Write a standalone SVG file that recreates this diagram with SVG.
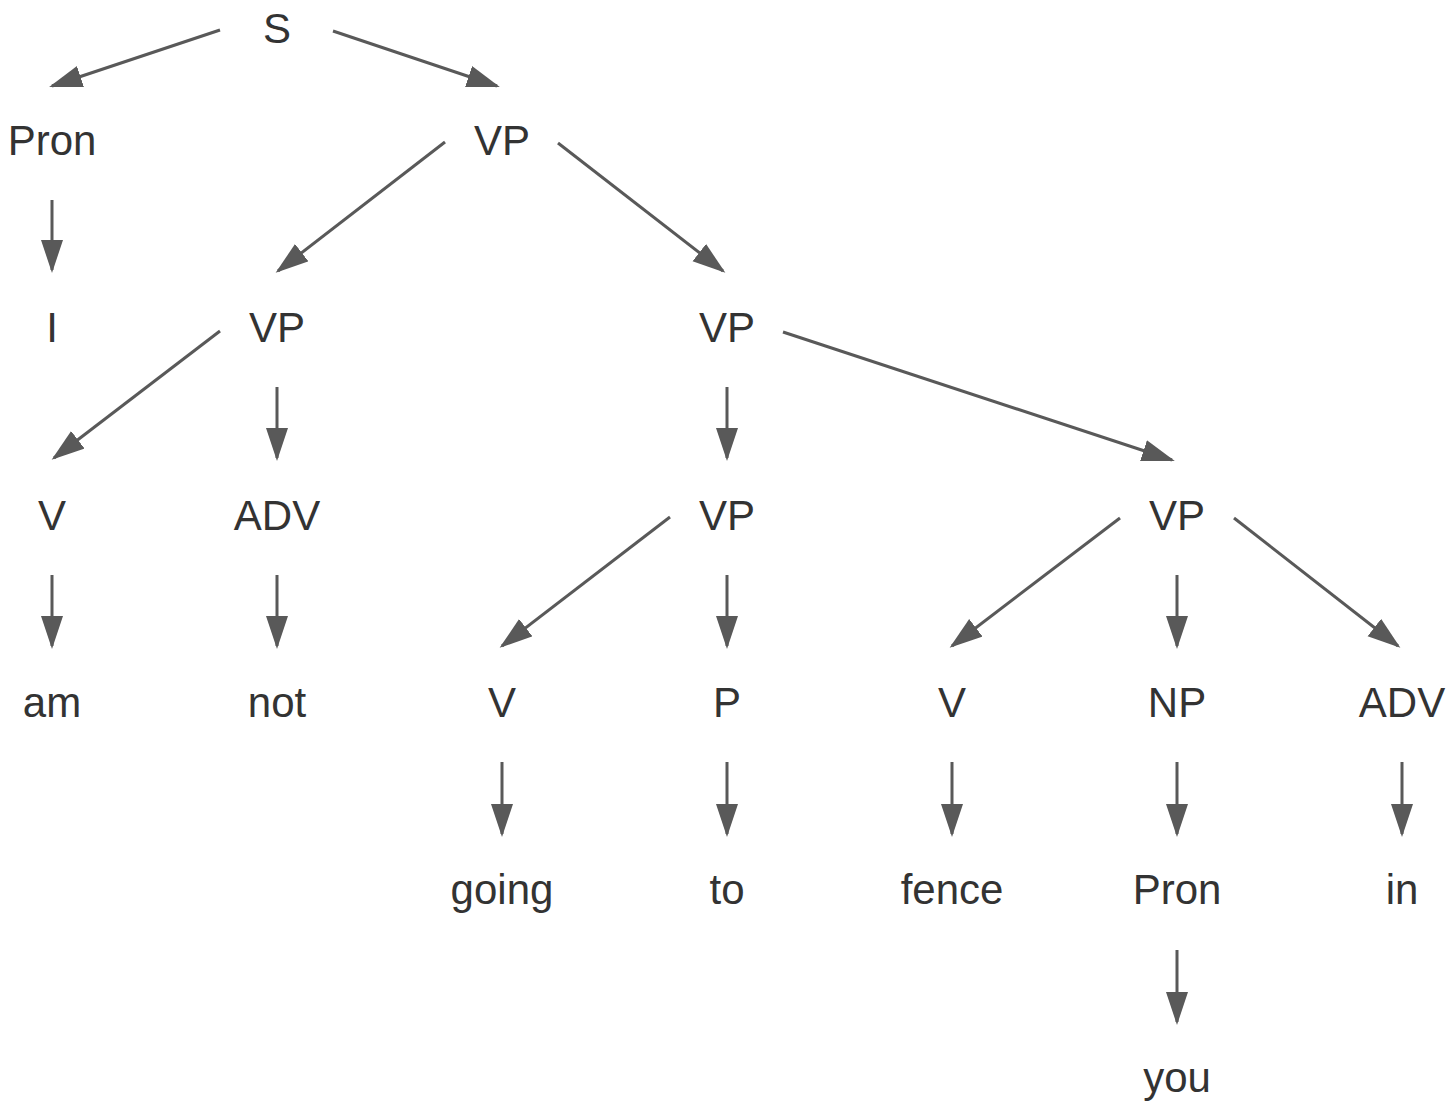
<svg xmlns="http://www.w3.org/2000/svg" width="1456" height="1108" viewBox="0 0 1456 1108">
<style>
text{font-family:"Liberation Sans",Arial,sans-serif;font-size:42px;fill:#333333;text-anchor:middle}
.e{stroke:#595959;stroke-width:3;fill:none;marker-end:url(#ah)}
</style>
<defs>
<marker id="ah" markerUnits="userSpaceOnUse" markerWidth="36" markerHeight="24" refX="30" refY="11" orient="auto">
<path d="M0,0 L33,11 L0,22 z" fill="#595959"/>
</marker>
</defs>
<rect width="1456" height="1108" fill="#ffffff"/>
<g id="connectors">
<line class="e" x1="220" y1="30" x2="52" y2="86"/>
<line class="e" x1="333" y1="31" x2="497" y2="86"/>
<line class="e" x1="52" y1="200" x2="52" y2="270"/>
<line class="e" x1="445" y1="142" x2="278" y2="271"/>
<line class="e" x1="558" y1="143" x2="723" y2="271"/>
<line class="e" x1="220" y1="331" x2="54" y2="458"/>
<line class="e" x1="277" y1="387" x2="277" y2="458"/>
<line class="e" x1="727" y1="387" x2="727" y2="458"/>
<line class="e" x1="783" y1="332" x2="1172" y2="460"/>
<line class="e" x1="52" y1="575" x2="52" y2="646"/>
<line class="e" x1="277" y1="575" x2="277" y2="646"/>
<line class="e" x1="670" y1="517" x2="502" y2="646"/>
<line class="e" x1="727" y1="575" x2="727" y2="646"/>
<line class="e" x1="1120" y1="518" x2="952" y2="646"/>
<line class="e" x1="1177" y1="575" x2="1177" y2="646"/>
<line class="e" x1="1234" y1="518" x2="1398" y2="646"/>
<line class="e" x1="502" y1="762" x2="502" y2="834"/>
<line class="e" x1="727" y1="762" x2="727" y2="834"/>
<line class="e" x1="952" y1="762" x2="952" y2="834"/>
<line class="e" x1="1177" y1="762" x2="1177" y2="834"/>
<line class="e" x1="1402" y1="762" x2="1402" y2="834"/>
<line class="e" x1="1177" y1="950" x2="1177" y2="1022"/>
</g>
<g id="n-S"><text x="277" y="43">S</text></g>
<g id="n-Pron1"><text x="52" y="155">Pron</text></g>
<g id="n-VP1"><text x="502" y="155">VP</text></g>
<g id="n-I"><text x="52" y="342">I</text></g>
<g id="n-VP2"><text x="277" y="342">VP</text></g>
<g id="n-VP3"><text x="727" y="342">VP</text></g>
<g id="n-V1"><text x="52" y="530">V</text></g>
<g id="n-ADV1"><text x="277" y="530">ADV</text></g>
<g id="n-VP4"><text x="727" y="530">VP</text></g>
<g id="n-VP5"><text x="1177" y="530">VP</text></g>
<g id="n-am"><text x="52" y="717">am</text></g>
<g id="n-not"><text x="277" y="717">not</text></g>
<g id="n-V2"><text x="502" y="717">V</text></g>
<g id="n-P"><text x="727" y="717">P</text></g>
<g id="n-V3"><text x="952" y="717">V</text></g>
<g id="n-NP"><text x="1177" y="717">NP</text></g>
<g id="n-ADV2"><text x="1402" y="717">ADV</text></g>
<g id="n-going"><text x="502" y="904">going</text></g>
<g id="n-to"><text x="727" y="904">to</text></g>
<g id="n-fence"><text x="952" y="904">fence</text></g>
<g id="n-Pron2"><text x="1177" y="904">Pron</text></g>
<g id="n-in"><text x="1402" y="904">in</text></g>
<g id="n-you"><text x="1177" y="1092">you</text></g>
</svg>
